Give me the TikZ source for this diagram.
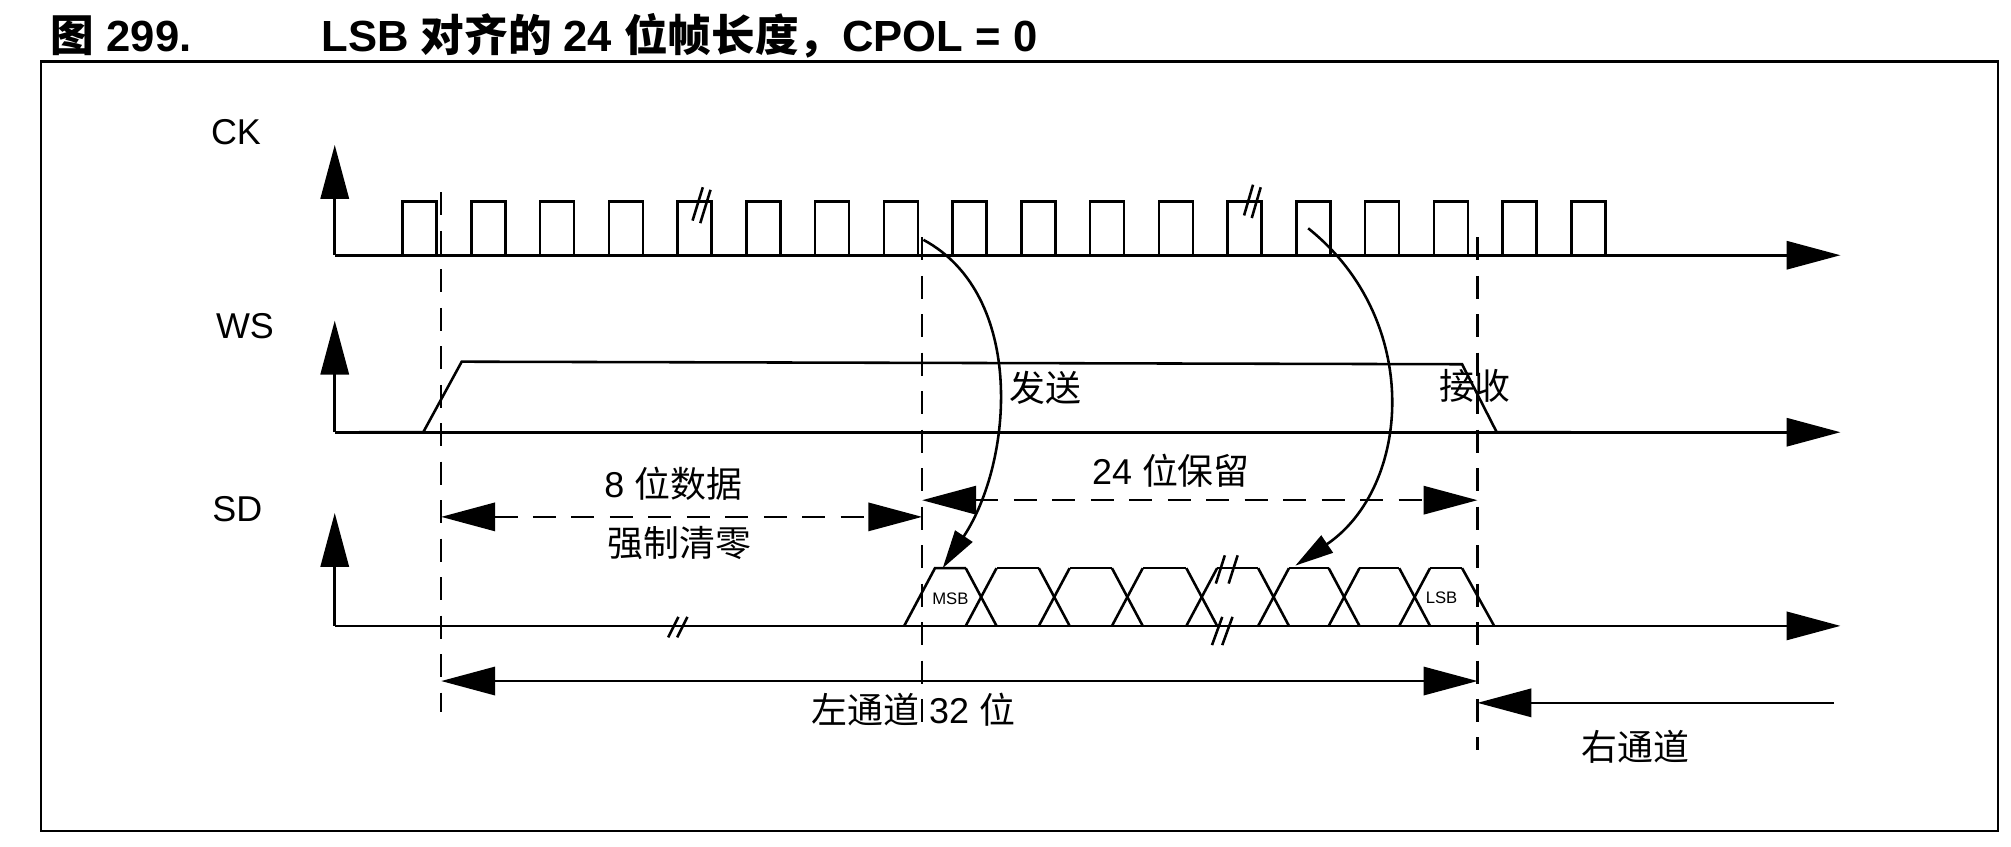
\documentclass[tikz,border=0pt]{standalone}
\usepackage{fontspec}
\setmainfont{Liberation Sans}
\newfontfamily\cjk{Noto Sans CJK SC}
\usetikzlibrary{arrows.meta}
\begin{document}
\begin{tikzpicture}[x=0.5pt,y=-0.5pt,line width=1pt,
  big/.style={-{Triangle[length=21pt,width=11pt]}},
  bigb/.style={{Triangle[length=21pt,width=11pt]}-{Triangle[length=21pt,width=11pt]}},
  cur/.style={-{Triangle[length=15pt,width=8pt]}},
  lbl/.style={font=\fontsize{14}{16}\selectfont},
  dsh/.style={dash pattern=on 9pt off 6pt}]
\useasboundingbox (0,0) rectangle (1568,660);
\fill[white] (0,0) rectangle (1568,660);
\node[anchor=west,font=\fontsize{17}{20}\selectfont\bfseries] (t1) at (32,28) {{\cjk 图} 299.};
\node[anchor=west,font=\fontsize{17}{20}\selectfont\bfseries] (t2) at (243,28) {LSB {\cjk 对齐的} 24 {\cjk 位帧长度，}CPOL = 0};
\draw (32,48) rectangle (1558,648);
% labels
\node[lbl] (ck) at (184,103) {CK};
\node[lbl] (ws) at (191,254) {WS};
\node[lbl] (sd) at (185,397) {SD};
% axes
\foreach \y/\t in {199/113,337/250,488/400}{
  \draw[big] (261,\y) -- (261,\t);
  \draw[big] (261,\y) -- (1435,\y);
}
% clock
\foreach \i in {0,...,17}{
  \pgfmathsetmacro\a{314+53.6*\i}
  \draw (\a,199) -- (\a,157) -- (\a+26.5,157) -- (\a+26.5,199);
}
\draw (540,172) -- (548,146); \draw (546,174) -- (554,148);
\draw (970,168) -- (977,144); \draw (976,170) -- (983,146);
% dashed verticals
\draw[dsh] (344,150) -- (344,555);
\draw[dsh] (719,185) -- (719,565);
\draw[dsh] (1152,185) -- (1152,585);
% WS
\draw (280,337) -- (330,337) -- (360,282) -- (1140,284) -- (1167,337) -- (1225,337);
% SD data
\foreach \c in {765,822,879,937,993,1048,1103}{
  \draw (\c-12,443) -- (\c+12,488);
  \draw (\c-12,488) -- (\c+12,443);
}
\draw (705,488) -- (729,443) -- (753,443);
\draw (729,488) -- (753,488);
\foreach \a/\b in {777/810,834/867,891/925,949/981,1005/1036,1060/1091,1115/1140}{
  \draw (\a,443) -- (\b,443);
  \draw (\a,488) -- (\b,488);
}
\draw (1140,443) -- (1165,488);
\node[font=\fontsize{6.5}{8}\selectfont] (msb) at (741,467) {MSB};
\node[font=\fontsize{6.5}{8}\selectfont] (lsb) at (1124,466) {LSB};
\draw (948,455) -- (955,433); \draw (958,455) -- (965,433);
\draw (945,503) -- (953,481); \draw (953,503) -- (961,481);
\draw (521,497) -- (529,481); \draw (528,497) -- (536,481);
% dimension arrows
\draw[bigb,dsh] (344,403) -- (719,403);
\draw[bigb,dsh] (719,390) -- (1152,390);
\draw[bigb] (344,531) -- (1152,531);
\draw[big] (1430,548) -- (1152,548);
\node[lbl] (d8) at (525,377) {8 {\cjk 位数据}};
\node[lbl] (qz) at (530,423) {\cjk 强制清零};
\node[lbl] (b24) at (913,367) {24 {\cjk 位保留}};
\node[lbl] (lc) at (712,553) {{\cjk 左通道} 32 {\cjk 位}};
\node[lbl] (rc) at (1275,582) {\cjk 右通道};
\node[lbl] (fs) at (815,302) {\cjk 发送};
\node[lbl] (js) at (1150,301) {\cjk 接收};
% curves
\coordinate (c1) at (720,187);
\coordinate (m1) at (735,443);
\draw[cur] (c1) .. controls (800,230) and (790,360) .. (m1);
\coordinate (c2) at (1020,178);
\coordinate (m2) at (1010,441);
\draw[cur] (c2) .. controls (1110,250) and (1100,380) .. (m2);
\end{tikzpicture}
\end{document}
